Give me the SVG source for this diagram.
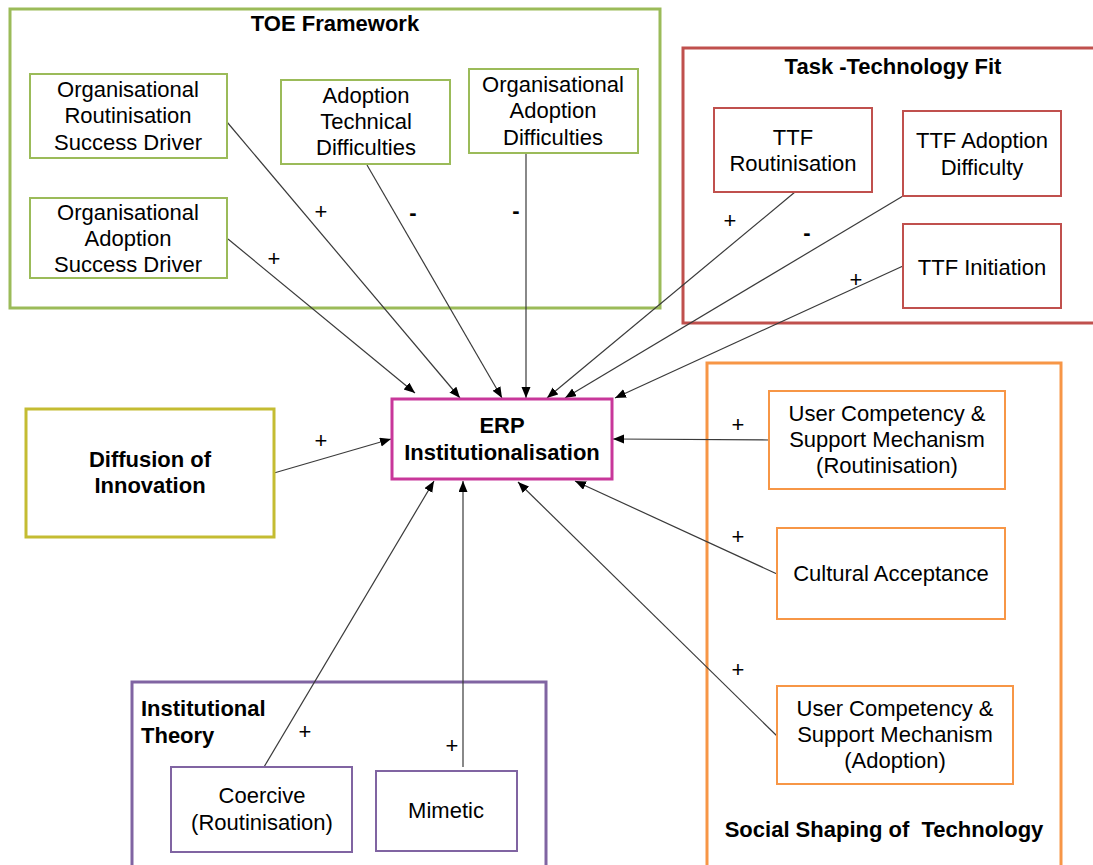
<svg xmlns="http://www.w3.org/2000/svg" width="1093" height="865" viewBox="0 0 1093 865">
<style>
text{font-family:"Liberation Sans",Arial,sans-serif;font-size:22px;fill:#000;}
.t{text-anchor:middle;}
.b{font-weight:bold;}
.sg{fill:#fff;stroke:#9BBB59;stroke-width:3;}
.ig{fill:#fff;stroke:#9BBB59;stroke-width:2;}
.sr{fill:none;stroke:#C0504D;stroke-width:3;}
.ir{fill:#fff;stroke:#C0504D;stroke-width:2;}
.so{fill:none;stroke:#F79646;stroke-width:3;}
.io{fill:#fff;stroke:#F79646;stroke-width:2;}
.sp{fill:none;stroke:#8064A2;stroke-width:3;}
.ip{fill:#fff;stroke:#8064A2;stroke-width:2;}
.c line{stroke:#3a3a3a;stroke-width:1.2;marker-end:url(#ah);}
</style>
<defs>
<marker id="ah" markerUnits="userSpaceOnUse" markerWidth="12" markerHeight="10" refX="11" refY="4.5" orient="auto">
<path d="M0,0 L11,4.5 L0,9 Z" fill="#000"/>
</marker>
</defs>
<rect width="1093" height="865" fill="#fff"/>

<g id="toe">
<rect class="sg" x="10" y="9" width="650" height="299"/>
<text class="t b" x="335" y="31">TOE Framework</text>
</g>
<g id="ttf">
<rect class="sr" x="683" y="48" width="420" height="275"/>
<text class="t b" x="893" y="74">Task -Technology Fit</text>
</g>
<g id="sst">
<rect class="so" x="707" y="363" width="354" height="520"/>
<text class="t b" x="884" y="837">Social Shaping of&#160; Technology</text>
</g>
<g id="inst">
<rect class="sp" x="132" y="682" width="414" height="200"/>
<text class="b" x="141" y="716">Institutional</text>
<text class="b" x="141" y="743">Theory</text>
</g>

<g id="conn" class="c">
<line x1="228" y1="239" x2="415" y2="393"/>
<line x1="227" y1="122" x2="460" y2="398"/>
<line x1="367" y1="165" x2="502" y2="398"/>
<line x1="526" y1="153" x2="526" y2="398"/>
<line x1="795" y1="192" x2="547" y2="398"/>
<line x1="903" y1="196" x2="565" y2="398"/>
<line x1="903" y1="266" x2="615" y2="398"/>
<line x1="274" y1="473" x2="391" y2="439"/>
<line x1="769" y1="440" x2="613" y2="439"/>
<line x1="777" y1="574" x2="575" y2="481"/>
<line x1="777" y1="736" x2="518" y2="482"/>
<line x1="463" y1="767" x2="463" y2="481"/>
<line x1="264" y1="767" x2="434" y2="481"/>
</g>

<g id="labels">
<text class="t" x="321" y="219">+</text>
<text class="t" x="274" y="266">+</text>
<text class="t b" x="413" y="220">-</text>
<text class="t b" x="516" y="218">-</text>
<text class="t" x="730" y="228">+</text>
<text class="t b" x="807" y="240">-</text>
<text class="t" x="856" y="287">+</text>
<text class="t" x="321" y="448">+</text>
<text class="t" x="738" y="432">+</text>
<text class="t" x="738" y="544">+</text>
<text class="t" x="738" y="677">+</text>
<text class="t" x="305" y="739">+</text>
<text class="t" x="452" y="753">+</text>
</g>

<g id="n-ors">
<rect class="ig" x="30" y="74" width="197" height="84"/>
<text class="t" x="128" y="97">Organisational</text>
<text class="t" x="128" y="123">Routinisation</text>
<text class="t" x="128" y="150">Success Driver</text>
</g>
<g id="n-oas">
<rect class="ig" x="30" y="198" width="197" height="80"/>
<text class="t" x="128" y="220">Organisational</text>
<text class="t" x="128" y="246">Adoption</text>
<text class="t" x="128" y="272">Success Driver</text>
</g>
<g id="n-atd">
<rect class="ig" x="281" y="80" width="169" height="84"/>
<text class="t" x="366" y="103">Adoption</text>
<text class="t" x="366" y="129">Technical</text>
<text class="t" x="366" y="155">Difficulties</text>
</g>
<g id="n-oad">
<rect class="ig" x="469" y="69" width="169" height="84"/>
<text class="t" x="553" y="92">Organisational</text>
<text class="t" x="553" y="118">Adoption</text>
<text class="t" x="553" y="145">Difficulties</text>
</g>

<g id="n-ttfr">
<rect class="ir" x="714" y="108" width="158" height="84"/>
<text class="t" x="793" y="145">TTF</text>
<text class="t" x="793" y="171">Routinisation</text>
</g>
<g id="n-ttfa">
<rect class="ir" x="903" y="111" width="158" height="85"/>
<text class="t" x="982" y="148">TTF Adoption</text>
<text class="t" x="982" y="175">Difficulty</text>
</g>
<g id="n-ttfi">
<rect class="ir" x="903" y="224" width="158" height="84"/>
<text class="t" x="982" y="275">TTF Initiation</text>
</g>

<g id="n-doi">
<rect x="26" y="409" width="248" height="128" fill="#fff" stroke="#C4BC32" stroke-width="3"/>
<text class="t b" x="150" y="467">Diffusion of</text>
<text class="t b" x="150" y="493">Innovation</text>
</g>

<g id="n-erp">
<rect x="392" y="399" width="220" height="80" fill="#fff" stroke="#C8379A" stroke-width="3"/>
<text class="t b" x="502" y="433">ERP</text>
<text class="t b" x="502" y="460">Institutionalisation</text>
</g>

<g id="n-ucr">
<rect class="io" x="769" y="391" width="236" height="98"/>
<text class="t" x="887" y="421">User Competency &amp;</text>
<text class="t" x="887" y="447">Support Mechanism</text>
<text class="t" x="887" y="473">(Routinisation)</text>
</g>
<g id="n-ca">
<rect class="io" x="777" y="528" width="228" height="91"/>
<text class="t" x="891" y="581">Cultural Acceptance</text>
</g>
<g id="n-uca">
<rect class="io" x="777" y="686" width="236" height="98"/>
<text class="t" x="895" y="716">User Competency &amp;</text>
<text class="t" x="895" y="742">Support Mechanism</text>
<text class="t" x="895" y="768">(Adoption)</text>
</g>

<g id="n-coe">
<rect class="ip" x="171" y="767" width="181" height="85"/>
<text class="t" x="262" y="803">Coercive</text>
<text class="t" x="262" y="830">(Routinisation)</text>
</g>
<g id="n-mim">
<rect class="ip" x="376" y="771" width="141" height="80"/>
<text class="t" x="446" y="818">Mimetic</text>
</g>
</svg>
